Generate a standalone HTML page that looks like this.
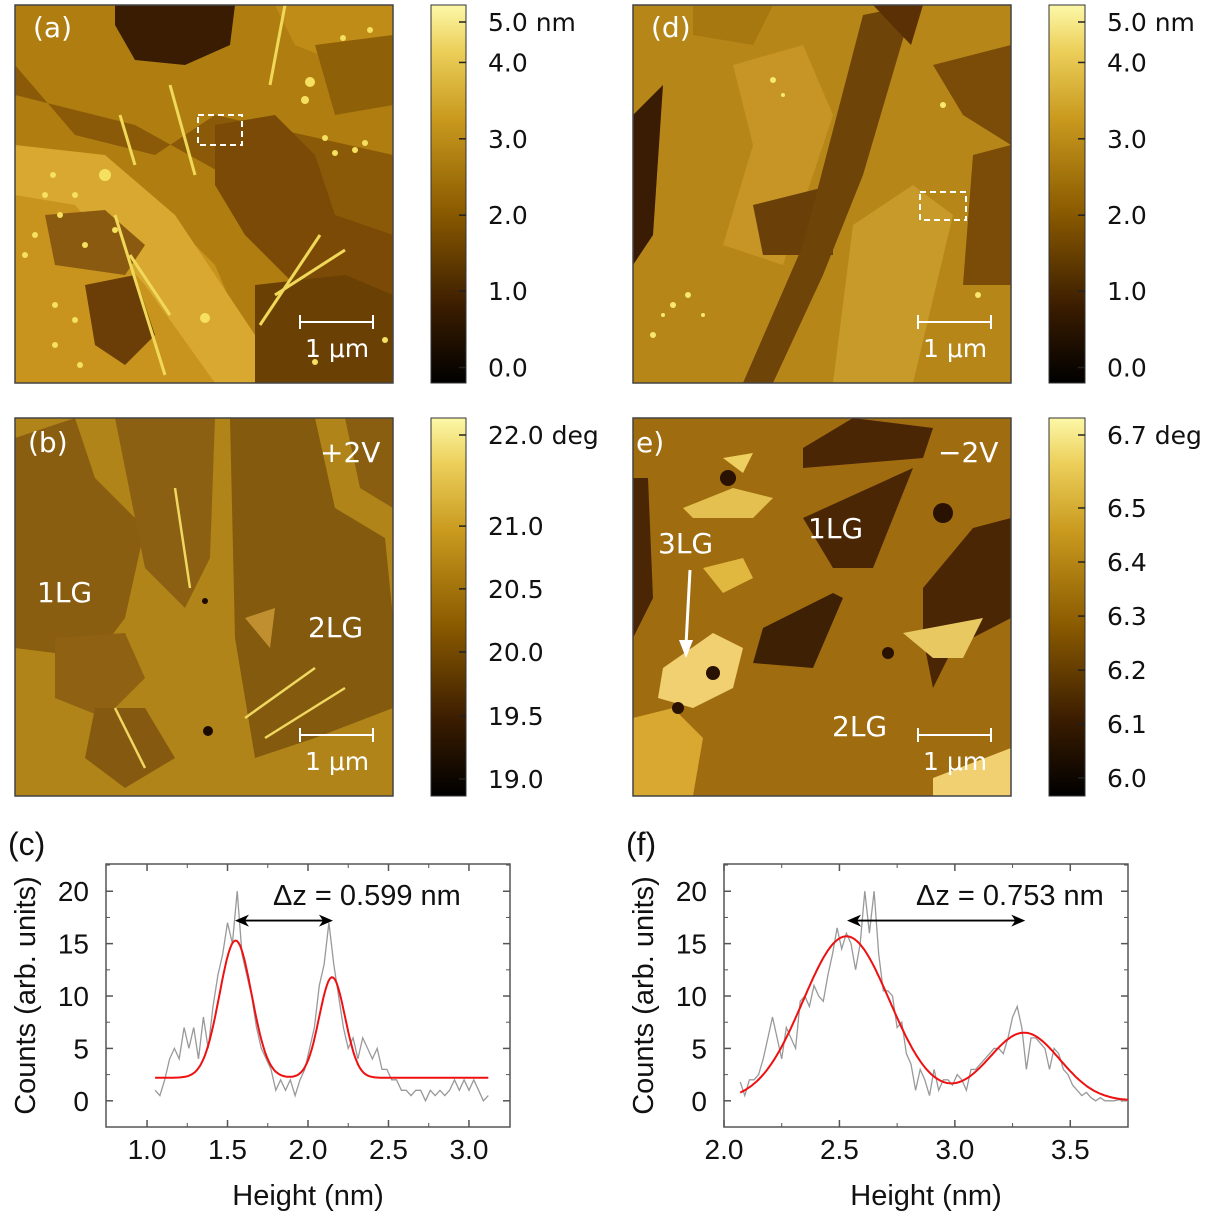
<!DOCTYPE html>
<html><head><meta charset="utf-8">
<style>
html,body{margin:0;padding:0;background:#fff;}
svg{display:block;font-family:"Liberation Sans",sans-serif;}
.lbl{font-family:"DejaVu Sans","Liberation Sans",sans-serif;fill:#fff;font-size:28px;}
.cb{font-family:"DejaVu Sans","Liberation Sans",sans-serif;font-size:25px;fill:#111;}
.tk{font-size:28px;fill:#111;}
.ttl{font-size:29px;fill:#111;}
</style></head>
<body>
<svg id="fig" width="1210" height="1215" viewBox="0 0 1210 1215" xmlns="http://www.w3.org/2000/svg">
<defs>
<linearGradient id="cmap" x1="0" y1="1" x2="0" y2="0">
<stop offset="0" stop-color="#000"/>
<stop offset="0.2" stop-color="#3a1c00"/>
<stop offset="0.45" stop-color="#8a5a00"/>
<stop offset="0.7" stop-color="#c99a1e"/>
<stop offset="0.88" stop-color="#eccf5a"/>
<stop offset="1" stop-color="#fcf8a8"/>
</linearGradient>
</defs>

<g transform="translate(15,5)">
<rect width="378" height="378" fill="#b07e10"/>
<polygon points="0,60 60,130 140,150 200,110 378,150 378,250 300,250 210,170 120,120 0,90" fill="#8a5a08"/>
<polygon points="100,0 220,0 215,40 170,60 120,55 100,20" fill="#3a1c02"/>
<polygon points="0,140 120,180 200,260 250,378 0,378" fill="#c8941e"/>
<polygon points="0,140 90,150 160,210 240,330 260,378 200,378 130,280 60,200 0,190" fill="#d8a830"/>
<polygon points="200,120 260,110 300,150 320,210 378,230 378,300 280,280 230,230 200,180" fill="#7a4a06"/>
<polygon points="240,280 330,270 378,290 378,378 240,378" fill="#6a4004"/>
<polygon points="30,210 90,205 130,240 110,270 40,260" fill="#8a5a10"/>
<polygon points="70,280 120,270 140,330 110,360 80,340" fill="#6a3e06"/>
<polygon points="260,0 378,0 378,40 330,60 280,40" fill="#c08c18"/>
<polygon points="300,40 378,30 378,100 320,110" fill="#8e6008"/>
<g fill="#f6e060">
<circle cx="90" cy="170" r="6"/><circle cx="295" cy="77" r="5"/><circle cx="290" cy="95" r="4"/><circle cx="190" cy="313" r="5"/><circle cx="38" cy="170" r="3"/><circle cx="30" cy="190" r="3"/><circle cx="20" cy="230" r="3"/><circle cx="60" cy="315" r="3"/><circle cx="40" cy="340" r="3"/><circle cx="320" cy="148" r="3"/><circle cx="340" cy="145" r="3"/><circle cx="350" cy="138" r="3"/><circle cx="328" cy="33" r="3"/><circle cx="355" cy="25" r="3"/><circle cx="310" cy="133" r="3"/><circle cx="60" cy="190" r="3"/><circle cx="45" cy="210" r="3"/><circle cx="70" cy="240" r="3"/><circle cx="100" cy="225" r="3"/><circle cx="40" cy="300" r="3"/><circle cx="65" cy="360" r="3"/><circle cx="300" cy="357" r="3"/><circle cx="370" cy="335" r="3"/><circle cx="10" cy="250" r="3"/></g>
<g stroke="#f0d858" stroke-width="3" fill="none">
<line x1="100" y1="210" x2="150" y2="370"/><line x1="245" y1="320" x2="305" y2="230"/><line x1="260" y1="290" x2="330" y2="245"/><line x1="105" y1="110" x2="120" y2="160"/><line x1="155" y1="80" x2="180" y2="170"/><line x1="270" y1="0" x2="255" y2="80"/><line x1="115" y1="250" x2="155" y2="310"/></g>
<rect x="183" y="110" width="44" height="30" fill="none" stroke="#fff" stroke-width="2" stroke-dasharray="6,4"/>
</g>
<g transform="translate(15,418)">
<rect width="378" height="378" fill="#b08418"/>
<polygon points="0,20 60,0 80,60 130,110 110,200 80,240 0,230" fill="#8a5e10"/>
<polygon points="100,0 200,0 195,140 170,190 130,150" fill="#8c6012"/>
<polygon points="215,0 300,0 320,90 370,120 378,200 378,290 300,320 240,340 220,220" fill="#845a0e"/>
<polygon points="330,0 378,0 378,90 345,70" fill="#8a5e10"/>
<polygon points="40,220 110,215 130,260 90,300 40,280" fill="#8e6212"/>
<polygon points="80,290 130,290 160,340 110,370 70,340" fill="#855a10"/>
<polygon points="230,200 260,190 255,230" fill="#c09030"/>
<g stroke="#f0d860" stroke-width="2.5"><line x1="250" y1="320" x2="330" y2="270"/><line x1="230" y1="300" x2="300" y2="250"/><line x1="100" y1="290" x2="130" y2="350"/><line x1="160" y1="70" x2="175" y2="170"/></g>
<circle cx="193" cy="313" r="5" fill="#1a0a00"/><circle cx="190" cy="183" r="3" fill="#1a0a00"/>
</g>
<g transform="translate(633,5)">
<rect width="378" height="378" fill="#b68618"/>
<polygon points="0,110 30,80 20,230 0,260" fill="#3a1c04"/>
<polygon points="100,60 170,40 200,110 150,260 90,240 120,140" fill="#c69526"/>
<polygon points="120,200 200,180 200,250 130,250" fill="#6a4008"/>
<polygon points="230,10 280,0 230,170 190,270 140,378 110,378 170,240" fill="#6e4408"/>
<polygon points="240,0 290,0 278,40" fill="#5a3004"/>
<polygon points="300,60 378,40 378,140 330,110" fill="#7a4c08"/>
<polygon points="220,220 280,180 320,210 280,378 200,378" fill="#c89a2a"/>
<polygon points="340,150 378,140 378,280 330,280" fill="#7a4c08"/>
<polygon points="60,0 140,0 120,40 60,30" fill="#a87810"/>
<g fill="#f8e870"><circle cx="40" cy="300" r="3"/><circle cx="30" cy="310" r="2"/><circle cx="55" cy="290" r="3"/><circle cx="70" cy="310" r="2"/><circle cx="140" cy="75" r="3"/><circle cx="150" cy="90" r="2"/><circle cx="310" cy="100" r="3"/><circle cx="345" cy="290" r="3"/><circle cx="20" cy="330" r="3"/></g>
<rect x="287" y="187" width="46" height="28" fill="none" stroke="#fff" stroke-width="2" stroke-dasharray="6,4"/>
</g>
<g transform="translate(633,418)">
<rect width="378" height="378" fill="#a06c10"/>
<polygon points="170,30 220,0 300,10 290,40 230,45 170,50" fill="#4a2604"/>
<polygon points="170,100 280,50 240,150 200,150" fill="#4a2604"/>
<polygon points="130,210 200,175 210,180 180,250 120,245" fill="#3e2004"/>
<polygon points="290,170 340,110 378,100 378,200 320,230 300,270 290,220" fill="#4a2604"/>
<polygon points="0,60 15,60 20,180 0,220" fill="#4a2604"/>
<polygon points="30,250 80,215 110,230 100,270 60,290 25,280" fill="#f0d070"/>
<polygon points="50,90 100,70 140,80 120,100 60,100" fill="#e4c050"/>
<polygon points="70,150 110,140 120,160 90,175" fill="#e0b840"/>
<polygon points="90,40 120,35 110,55" fill="#eed060"/>
<polygon points="0,300 40,290 70,320 60,378 0,378" fill="#d8a830"/>
<polygon points="300,360 378,330 378,378 300,378" fill="#f0d070"/>
<polygon points="270,215 350,200 330,240 300,240" fill="#e8c860"/>
<g fill="#2a1202"><circle cx="95" cy="60" r="8"/><circle cx="310" cy="95" r="10"/><circle cx="80" cy="255" r="7"/><circle cx="45" cy="290" r="6"/><circle cx="255" cy="235" r="6"/></g>
</g>
<g fill="none" stroke="#444" stroke-width="1.5">
<rect x="15" y="5" width="378" height="378"/><rect x="633" y="5" width="378" height="378"/>
<rect x="15" y="418" width="378" height="378"/><rect x="633" y="418" width="378" height="378"/>
</g>
<text class="lbl" x="33" y="37">(a)</text>
<text class="lbl" x="651" y="37">(d)</text>
<text class="lbl" x="28" y="452">(b)</text>
<text class="lbl" x="636" y="452">e)</text>
<text class="lbl" x="320" y="462">+2V</text>
<text class="lbl" x="938" y="462">−2V</text>
<text class="lbl" x="37" y="602">1LG</text>
<text class="lbl" x="308" y="637">2LG</text>
<text class="lbl" x="658" y="553">3LG</text>
<text class="lbl" x="808" y="538">1LG</text>
<text class="lbl" x="832" y="736">2LG</text>
<g><line x1="690" y1="570" x2="686" y2="645" stroke="#fff" stroke-width="3"/><polygon points="679,640 693,640 686,658" fill="#fff"/></g>
<g stroke="#fff" stroke-width="2">
<line x1="300" y1="322" x2="373" y2="322"/><line x1="300" y1="315" x2="300" y2="329"/><line x1="373" y1="315" x2="373" y2="329"/>
<line x1="918" y1="322" x2="991" y2="322"/><line x1="918" y1="315" x2="918" y2="329"/><line x1="991" y1="315" x2="991" y2="329"/>
<line x1="300" y1="735" x2="373" y2="735"/><line x1="300" y1="728" x2="300" y2="742"/><line x1="373" y1="728" x2="373" y2="742"/>
<line x1="918" y1="735" x2="991" y2="735"/><line x1="918" y1="728" x2="918" y2="742"/><line x1="991" y1="728" x2="991" y2="742"/>
</g>
<g class="lbl" style="font-size:25px">
<text x="305" y="357">1 μm</text>
<text x="923" y="357">1 μm</text>
<text x="305" y="770">1 μm</text>
<text x="923" y="770">1 μm</text>
</g>
<g id="colorbars"></g>
<g id="chartC"></g>
<g id="chartF"></g>
</svg>
<script>
const cbALabels = ["5.0 nm","4.0","3.0","2.0","1.0","0.0"];
const cbAFrac = [0.955,0.848,0.646,0.444,0.243,0.041];
const cbBLabels = ["22.0 deg","21.0","20.5","20.0","19.5","19.0"];
const cbBFrac = [0.955,0.714,0.548,0.381,0.212,0.045];
const cbELabels = ["6.7 deg","6.5","6.4","6.3","6.2","6.1","6.0"];
const cbEFrac = [0.955,0.762,0.619,0.476,0.333,0.19,0.048];

const cX = [1.05,1.08,1.11,1.14,1.17,1.20,1.23,1.26,1.29,1.32,1.35,1.38,1.41,1.44,1.47,1.50,1.53,1.56,1.59,1.62,1.65,1.68,1.71,1.74,1.77,1.80,1.83,1.86,1.89,1.92,1.95,1.98,2.01,2.04,2.07,2.10,2.13,2.16,2.19,2.22,2.25,2.28,2.31,2.34,2.37,2.40,2.43,2.46,2.49,2.52,2.55,2.58,2.61,2.64,2.67,2.70,2.73,2.76,2.79,2.82,2.85,2.88,2.91,2.94,2.97,3.00,3.03,3.06,3.09,3.12];
const cY = [1,0.5,2,4,5,4,7,5,7,4,8,5,9,12,14,17,15,20,14,12,10,7,5,4,3,1,2,1,2,0.5,2,3,5,7,11,13,17,13,10,7,5,6,4,6,5,4,5,3,3,2,2,1,1,0.5,1,1,0,1,0.5,1,0.5,1,2,1,2,1,2,1,0,0.5];
const cFitBase = [2.2];
const cFitCenters = [1.55,2.15];
const cFitAmps = [13.1,9.6];
const cFitSigmas = [0.1,0.08];
const cXTicks = [1.0,1.5,2.0,2.5,3.0];
const cYTicks = [0,5,10,15,20];

const fX = [2.07,2.09,2.11,2.13,2.15,2.17,2.19,2.21,2.23,2.25,2.27,2.29,2.31,2.33,2.35,2.37,2.39,2.41,2.43,2.45,2.47,2.49,2.51,2.53,2.55,2.57,2.59,2.61,2.63,2.65,2.67,2.69,2.71,2.73,2.75,2.77,2.79,2.81,2.83,2.85,2.87,2.89,2.91,2.93,2.95,2.97,2.99,3.01,3.03,3.05,3.07,3.09,3.11,3.13,3.15,3.17,3.19,3.21,3.23,3.25,3.27,3.29,3.31,3.33,3.35,3.37,3.39,3.41,3.43,3.45,3.47,3.49,3.51,3.53,3.55,3.57,3.59,3.61,3.63,3.65,3.67,3.69,3.71,3.73,3.75];
const fY = [1.8,0.5,2,2,2.5,4,6,8,6,4,7,6,5,9.5,10,9,11,10,9.5,12,14,16.5,14.5,16,15,12.5,15,20,16,20,14,10.5,10.5,10,7,7.5,4.5,3.5,1,3,2,0.5,3,1,2,2,1.5,2.5,2,1,3,3,3.5,4,4.5,5,5,4.5,6,8,9,7,3,6,6,5.5,5,3,5,4.5,3,2.5,1.5,1,0.5,0.8,0.3,0,0.3,0,0,0,0.1,0,0];
const fFitBase = [0];
const fFitCenters = [2.53,3.3];
const fFitAmps = [15.7,6.5];
const fFitSigmas = [0.188,0.155];
const fXTicks = [2.0,2.5,3.0,3.5];
const fYTicks = [0,5,10,15,20];

const NS = "http://www.w3.org/2000/svg";
function mk(parent, tag, attrs){const e=document.createElementNS(NS,tag);for(const k in attrs)e.setAttribute(k,attrs[k]);parent.appendChild(e);return e;}

function colorbar(x,y,w,h,labels,fracs,name){
  const g=mk(document.getElementById('colorbars'),'g',{});
  
  
  const r=mk(g,'rect',{x:x,y:y,width:w,height:h,fill:'url(#cmap)',stroke:'#333','stroke-width':1});
  
  
  labels.forEach((l,i)=>{
    const ty=y+h*(1-fracs[i]);
    mk(g,'line',{x1:x+w-7,x2:x+w,y1:ty,y2:ty,stroke:'#222','stroke-width':1.5});
    const t=mk(g,'text',{x:x+w+22,y:ty+9,class:'cb'});
    t.textContent=l;
    
    
  });
}
colorbar(431,5,35,378,cbALabels,cbAFrac,'colorbar-height-a');
colorbar(1049,5,36,378,cbALabels,cbAFrac,'colorbar-height-d');
colorbar(431,418,35,378,cbBLabels,cbBFrac,'colorbar-phase-b');
colorbar(1049,418,36,378,cbELabels,cbEFrac,'colorbar-phase-e');

function chart(id,box,xr,yr,xs,ys,base,cen,amp,sig,xt,yt,letter,dz,arrow){
  const g=document.getElementById(id);
  
  
  const X=v=>box.x+(v-xr[0])/(xr[1]-xr[0])*box.w;
  const Y=v=>box.y+box.h-(v-yr[0])/(yr[1]-yr[0])*box.h;
  const frame=mk(g,'rect',{x:box.x,y:box.y,width:box.w,height:box.h,fill:'none',stroke:'#555','stroke-width':1.5});
  
  
  xt.forEach((v,i)=>{
    mk(g,'line',{x1:X(v),x2:X(v),y1:box.y+box.h,y2:box.y+box.h-7,stroke:'#555','stroke-width':1.5});
    mk(g,'line',{x1:X(v),x2:X(v),y1:box.y,y2:box.y+7,stroke:'#555','stroke-width':1.5});
    const mv=v+(xt[1]-xt[0])/2;
    if(X(mv)<box.x+box.w-1){mk(g,'line',{x1:X(mv),x2:X(mv),y1:box.y+box.h,y2:box.y+box.h-4,stroke:'#555'});mk(g,'line',{x1:X(mv),x2:X(mv),y1:box.y,y2:box.y+4,stroke:'#555'});}
    const t=mk(g,'text',{x:X(v),y:box.y+box.h+32,'text-anchor':'middle',class:'tk'});
    t.textContent=v.toFixed(1);
    
    
  });
  const mv0=xt[0]-(xt[1]-xt[0])/2;
  if(X(mv0)>box.x+1){mk(g,'line',{x1:X(mv0),x2:X(mv0),y1:box.y+box.h,y2:box.y+box.h-4,stroke:'#555'});mk(g,'line',{x1:X(mv0),x2:X(mv0),y1:box.y,y2:box.y+4,stroke:'#555'});}
  yt.forEach(v=>{
    mk(g,'line',{x1:box.x,x2:box.x+7,y1:Y(v),y2:Y(v),stroke:'#555','stroke-width':1.5});
    mk(g,'line',{x1:box.x+box.w,x2:box.x+box.w-7,y1:Y(v),y2:Y(v),stroke:'#555','stroke-width':1.5});
    mk(g,'line',{x1:box.x,x2:box.x+4,y1:Y(v+2.5),y2:Y(v+2.5),stroke:'#555'});
    mk(g,'line',{x1:box.x+box.w,x2:box.x+box.w-4,y1:Y(v+2.5),y2:Y(v+2.5),stroke:'#555'});
    const t=mk(g,'text',{x:box.x-17,y:Y(v)+10,'text-anchor':'end',class:'tk'});
    t.textContent=String(v);
    
    
  });
  const d=xs.map((v,i)=>(i?'L':'M')+X(v).toFixed(1)+','+Y(ys[i]).toFixed(1)).join('');
  const p=mk(g,'path',{d:d,fill:'none',stroke:'#999','stroke-width':1.3});
  
  
  let fd='';const x0=xs[0],x1=Math.min(xs[xs.length-1],xr[1]);
  for(let k=0;k<=200;k++){const xv=x0+(x1-x0)*k/200;let yv=base[0];cen.forEach((c,j)=>{yv+=amp[j]*Math.exp(-(xv-c)*(xv-c)/(2*sig[j]*sig[j]));});fd+=(k?'L':'M')+X(xv).toFixed(1)+','+Y(yv).toFixed(1);}
  const f=mk(g,'path',{d:fd,fill:'none',stroke:'#ee1111','stroke-width':2});
  
  
  const ag=mk(g,'g',{});
  
  
  const ay=Y(arrow[2]);const ax1=X(arrow[0]),ax2=X(arrow[1]);
  mk(ag,'line',{x1:ax1+6,x2:ax2-6,y1:ay,y2:ay,stroke:'#000','stroke-width':1.8});
  mk(ag,'polygon',{points:`${ax1},${ay} ${ax1+14},${ay-6} ${ax1+10},${ay} ${ax1+14},${ay+6}`,fill:'#000'});
  mk(ag,'polygon',{points:`${ax2},${ay} ${ax2-14},${ay-6} ${ax2-10},${ay} ${ax2-14},${ay+6}`,fill:'#000'});
  const dt=mk(g,'text',{x:dz[1],y:dz[2],class:'tk',style:'font-size:29px'});
  dt.textContent=dz[0];
  
  
  const xl=mk(g,'text',{x:box.x+box.w/2,y:box.y+box.h+78,'text-anchor':'middle',class:'ttl'});
  xl.textContent='Height (nm)';
  
  
  const yl=mk(g,'text',{x:0,y:0,'text-anchor':'middle',class:'ttl',transform:`translate(${box.x-71},${box.y+box.h/2}) rotate(-90)`});
  yl.textContent='Counts (arb. units)';
  
  
  const pl=mk(g,'text',{x:box.x-98,y:box.y-9,class:'ttl',style:'font-size:32px'});
  pl.textContent='('+letter+')';
  
  
}
chart('chartC',{x:106,y:864,w:404,h:263},[0.745,3.255],[-2.5,22.6],cX,cY,cFitBase,cFitCenters,cFitAmps,cFitSigmas,cXTicks,cYTicks,'c',['Δz = 0.599 nm',273,905],[1.546,2.155,17.2]);
chart('chartF',{x:724,y:864,w:404,h:263},[2.0,3.75],[-2.5,22.6],fX,fY,fFitBase,fFitCenters,fFitAmps,fFitSigmas,fXTicks,fYTicks,'f',['Δz = 0.753 nm',916,905],[2.533,3.305,17.2]);
</script>
</body></html>
